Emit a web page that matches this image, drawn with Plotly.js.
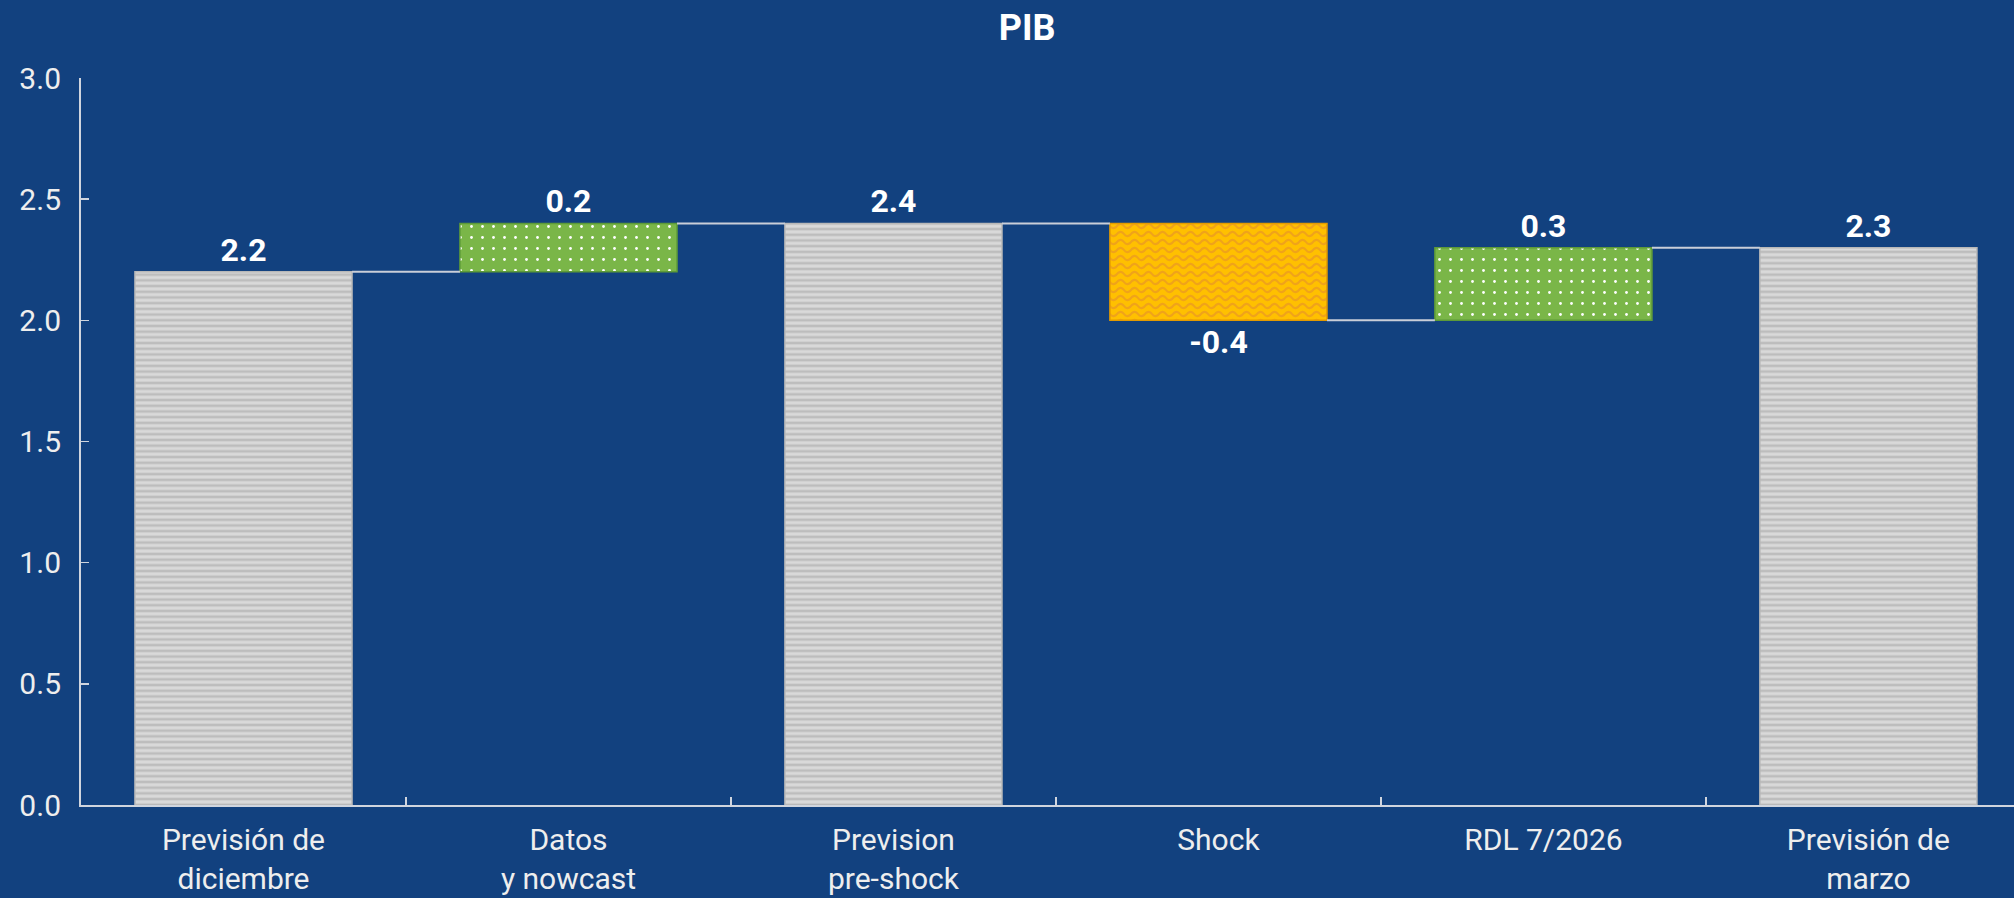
<!DOCTYPE html>
<html>
<head>
<meta charset="utf-8">
<script src="https://cdn.plot.ly/plotly-3.0.1.min.js"></script>
<style>
html,body{margin:0;padding:0;background:#12417f;}
#chart{width:2014px;height:898px;}
</style>
</head>
<body>
<div id="chart"></div>
<script>
const categories = ["Previsión de<br>diciembre", "Datos<br>y nowcast", "Prevision<br>pre-shock", "Shock", "RDL 7/2026", "Previsión de<br>marzo"];
const values = [2.2, 0.2, 2.4, -0.4, 0.3, 2.3];
const measures = ["absolute", "relative", "total", "relative", "relative", "total"];
const yTicks = [0, 0.5, 1.0, 1.5, 2.0, 2.5, 3.0];

const BG = "#12417f";
const barFrac = 0.668;
const ORANGE_FG = "#f0a31a";

// running totals
const bases = [], heights = [], ends = [];
let run = 0;
measures.forEach((m, i) => {
  const v = values[i];
  if (m === "absolute") { bases.push(0); heights.push(v); run = v; }
  else if (m === "relative") { bases.push(run); heights.push(v); run = Math.round((run + v) * 10) / 10; }
  else { bases.push(0); heights.push(run); }
  ends.push(run);
});

const kind = measures.map((m, i) => m === "relative" ? (values[i] >= 0 ? "up" : "down") : "total");
const style = {
  total: {bg: "#d9d9d9", fg: "#bdbdbd", shape: "-", size: 5.7, sol: 0.45, line: "#b8b8b8"},
  up:    {bg: "#7ab648", fg: "#ffffff", shape: ".", size: 11, sol: 0.05, line: "#5d9a38"},
  down:  {bg: "#ffc000", fg: ORANGE_FG, shape: "-", size: 8, sol: 0.3, line: "#e39a00"}
};

const traces = ["total", "up", "down"].map(k => {
  const s = style[k];
  const pick = arr => arr.map((v, i) => kind[i] === k ? v : null);
  return {
    type: "bar",
    name: k,
    x: categories,
    y: pick(heights),
    base: pick(bases),
    text: pick(values.map(v => v.toFixed(1))),
    textposition: "outside",
    textfont: {family: "Roboto", size: 32, color: "#ffffff", weight: "bold"},
    cliponaxis: false,
    marker: {
      color: s.bg,
      line: {color: s.line, width: 1.5},
      pattern: {shape: s.shape, bgcolor: s.bg, fgcolor: s.fg, fgopacity: 1, size: s.size, solidity: s.sol, fillmode: "replace"}
    },
    hoverinfo: "skip"
  };
});

const shapes = [];
for (let i = 0; i < categories.length - 1; i++) {
  shapes.push({
    type: "line", xref: "x", yref: "y",
    x0: i + barFrac / 2, x1: i + 1 - barFrac / 2,
    y0: ends[i], y1: ends[i],
    line: {color: "#c9ced8", width: 2},
    layer: "above"
  });
}

const layout = {
  width: 2014, height: 898,
  paper_bgcolor: BG, plot_bgcolor: BG,
  font: {family: "Roboto", color: "#eeeeee", size: 30},
  margin: {l: 81, r: 0, t: 78, b: 93, pad: 0},
  barmode: "overlay",
  bargap: 1 - barFrac,
  showlegend: false,
  title: {text: "<b>PIB</b>", font: {family: "Roboto", size: 36, color: "#ffffff"}, x: 0.51, xref: "container", y: 0.969, yref: "container", yanchor: "middle"},
  xaxis: {
    type: "category",
    range: [-0.5, 5.448],
    showline: true, linecolor: "#d0d5de", linewidth: 2,
    ticks: "inside", tickson: "boundaries", ticklen: 8, tickcolor: "#d0d5de", tickwidth: 1.5,
    showgrid: false, zeroline: false,
    tickfont: {family: "Roboto", size: 30, color: "#eeeeee"},
    ticklabelstandoff: 7,
    fixedrange: true
  },
  yaxis: {
    range: [0, 3.0],
    tickvals: yTicks,
    ticktext: yTicks.map(v => v.toFixed(1)),
    showline: true, linecolor: "#d0d5de", linewidth: 2,
    ticks: "inside", ticklen: 8, tickcolor: "#d0d5de", tickwidth: 1.5,
    showgrid: false, zeroline: false,
    tickfont: {family: "Roboto", size: 30, color: "#eeeeee"},
    ticklabelstandoff: 12,
    fixedrange: true
  },
  shapes: shapes
};

Plotly.newPlot("chart", traces, layout, {displayModeBar: false, staticPlot: true}).then(gd => {
  // turn the orange pattern's straight lines into a wavy band
  gd.querySelectorAll("pattern").forEach(p => {
    const path = p.querySelector("path");
    if (!path) return;
    const st = (path.getAttribute("style") || "") + " " + (path.getAttribute("stroke") || "");
    if (st.toLowerCase().indexOf("240, 163, 26") >= 0 || st.toLowerCase().indexOf(ORANGE_FG) >= 0) {
      p.setAttribute("width", 14);
      p.setAttribute("height", 8);
      path.setAttribute("d", "M-1,5 C2,1 5,1 7,4 C9,7 12,7 15,3");
      path.style.strokeWidth = "2.2px";
      path.style.fill = "none";
      const rect = p.querySelector("rect");
      if (rect) { rect.setAttribute("width", 14); rect.setAttribute("height", 8); }
    }
  });
});
</script>
</body>
</html>
